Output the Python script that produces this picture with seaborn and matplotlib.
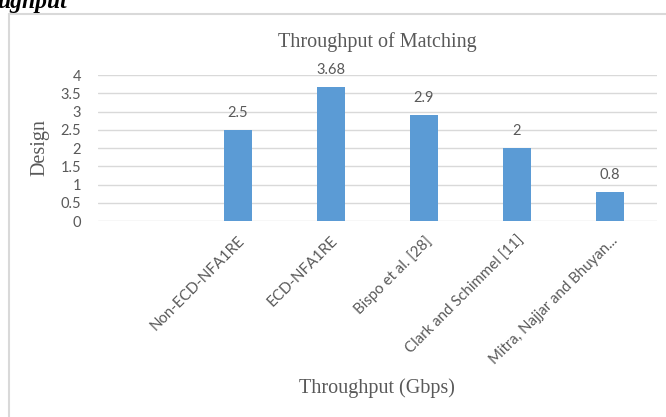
import matplotlib
matplotlib.use("Agg")
import matplotlib.pyplot as plt
from matplotlib.lines import Line2D
import seaborn as sns
import pandas as pd

categories = ["Non-ECD-NFA1RE", "ECD-NFA1RE", "Bispo et al. [28]",
              "Clark and Schimmel [11]", "Mitra, Najjar and Bhuyan..."]
values = [2.5, 3.68, 2.9, 2, 0.8]
value_labels = ["2.5", "3.68", "2.9", "2", "0.8"]
order = [""] + categories
yticks = [0, 0.5, 1, 1.5, 2, 2.5, 3, 3.5, 4]
ytick_labels = ["0", "0.5", "1", "1.5", "2", "2.5", "3", "3.5", "4"]

sns.set_style("white")
plt.rcParams["font.family"] = ["Lato", "DejaVu Sans"]

grey = "#595959"
fig = plt.figure(figsize=(6.66, 4.17), dpi=100)
ax = fig.add_axes([0.147, 0.470, 0.839, 0.350])

df = pd.DataFrame({"cat": categories, "val": values})
sns.barplot(data=df, x="cat", y="val", order=order, color="#5B9BD5",
            width=0.3, linewidth=0, saturation=1, ax=ax, zorder=3)

ax.set_ylim(0, 4)
ax.set_yticks(yticks)
ax.set_yticklabels(ytick_labels, fontsize=10.5, color=grey)
ax.yaxis.grid(True, color="#d9d9d9", linewidth=1, zorder=0)
ax.set_axisbelow(True)
for s in ax.spines.values():
    s.set_visible(False)
ax.tick_params(axis="both", length=0)
ax.tick_params(axis="y", pad=12)
ax.set_xticks(range(len(order)))
ax.set_xticklabels(order, rotation=45, ha="right", rotation_mode="anchor",
                   fontsize=10.8, color=grey)
ax.tick_params(axis="x", pad=9)

for i, (v, lab) in enumerate(zip(values, value_labels)):
    ax.annotate(lab, (i + 1, v), xytext=(0, 7), textcoords="offset points",
                ha="center", va="bottom", fontsize=10.5, color=grey)

ax.set_xlabel("Throughput (Gbps)", family="Liberation Serif", fontsize=14.5,
              color=grey, labelpad=8)
ax.set_ylabel("Design", family="Liberation Serif", fontsize=14.5, color=grey,
              labelpad=8)
ax.set_title("Throughput of Matching", family="Liberation Serif", fontsize=14.5,
             color=grey, pad=20)

# outer frame lines
x0 = 9 / 666
y0 = 1 - 14 / 417
fig.add_artist(Line2D([x0, x0], [0, y0], color="#d9d9d9", linewidth=1.5,
                      transform=fig.transFigure))
fig.add_artist(Line2D([x0, 1], [y0, y0], color="#d9d9d9", linewidth=1.5,
                      transform=fig.transFigure))
fig.text(-0.005, 1 - 8 / 417, "ughput", family="Liberation Serif",
         fontweight="bold", fontstyle="italic", fontsize=17, color="black",
         ha="left", va="baseline")

fig.savefig("out.png", dpi=100)
